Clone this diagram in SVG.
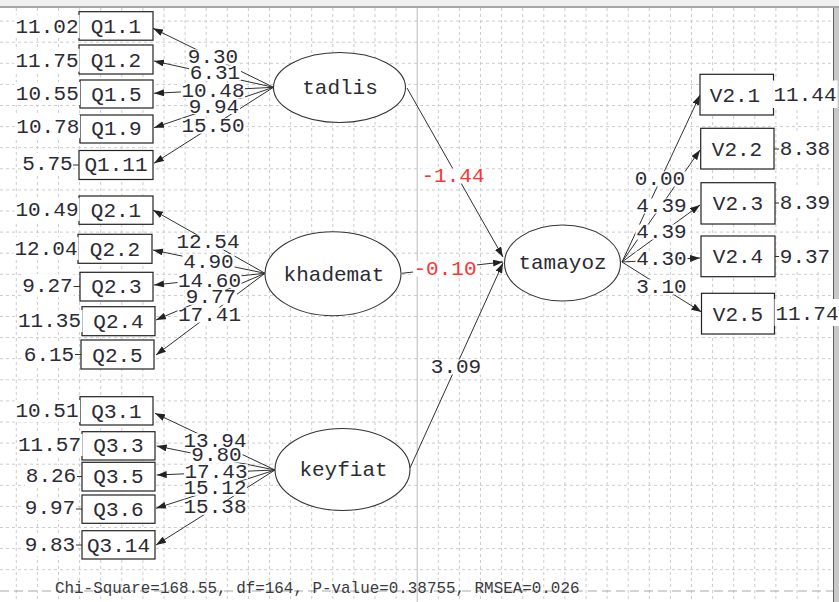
<svg xmlns="http://www.w3.org/2000/svg" width="839" height="602" viewBox="0 0 839 602">
<style>
.grid{stroke:#cccccc;stroke-width:1;stroke-dasharray:3,3;fill:none}
.t{font-family:"Liberation Mono","Courier New",monospace;font-size:21px;fill:#2b2b35;text-anchor:middle}
.red{fill:#ff3333}
.bg{fill:#fff}
.box{fill:#fff;stroke:#222;stroke-width:1.2}
.ell{fill:#fff;stroke:#333;stroke-width:1.1}
.ln{stroke:#303030;stroke-width:1;fill:none}
.arr{stroke:#303030;stroke-width:1;fill:none;marker-end:url(#ah)}
.foot{font-family:"Liberation Mono","Courier New",monospace;font-size:15.9px;fill:#3a3a40}
</style>
<defs>
<marker id="ah" markerWidth="10" markerHeight="7" refX="10" refY="3.5" orient="auto" markerUnits="userSpaceOnUse"><path d="M0,0 L10,3.5 L0,7 z" fill="#222"/></marker>
</defs>
<rect x="0" y="0" width="839" height="602" fill="#fff"/>
<g id="grid">
<path class="grid" d="M16.3 8V602M37.4 8V602M58.5 8V602M79.6 8V602M100.7 8V602M121.8 8V602M142.9 8V602M164 8V602M185.1 8V602M206.2 8V602M227.3 8V602M248.4 8V602M269.5 8V602M290.6 8V602M311.7 8V602M332.8 8V602M353.9 8V602M375 8V602M396.1 8V602M438.3 8V602M459.4 8V602M480.5 8V602M501.6 8V602M522.7 8V602M543.8 8V602M564.9 8V602M586 8V602M607.1 8V602M628.2 8V602M649.3 8V602M670.4 8V602M691.5 8V602M712.6 8V602M733.7 8V602M754.8 8V602M775.9 8V602M797 8V602M818.1 8V602"/>
<path class="grid" d="M0 21.1H833M0 42.2H833M0 63.3H833M0 84.4H833M0 105.5H833M0 126.6H833M0 147.7H833M0 168.8H833M0 189.9H833M0 211H833M0 232.1H833M0 253.2H833M0 274.3H833M0 295.4H833M0 316.5H833M0 337.6H833M0 358.7H833M0 379.8H833M0 400.9H833M0 422H833M0 443.1H833M0 464.2H833M0 485.3H833M0 506.4H833M0 527.5H833M0 548.6H833M0 569.7H833"/>
<path d="M417.2 8V602" stroke="#bcbcbc" stroke-width="1" fill="none"/>
<path d="M0 591H833" stroke="#a8a8a8" stroke-width="1" stroke-dasharray="9,5" fill="none"/>
</g>
<g id="frame">
<rect x="0" y="0" width="839" height="6" fill="#f0f0f0"/>
<path d="M0 7H839" stroke="#a8a8a8" stroke-width="2"/>
<rect x="834" y="8" width="5" height="594" fill="#c8c8c8"/>
<path d="M833.5 8V602" stroke="#606060" stroke-width="1"/>
</g>
<g id="connectors">
<path class="arr" d="M273.5 87.3L153 28.3"/>
<path class="arr" d="M273.5 87.3L154 61"/>
<path class="arr" d="M273.5 87.3L154 93.3"/>
<path class="arr" d="M273.5 87.3L154 127.7"/>
<path class="arr" d="M273.5 87.3L154 163.3"/>
<path class="arr" d="M265 273.3L153 210"/>
<path class="arr" d="M265 273.3L153 250"/>
<path class="arr" d="M265 273.3L154 285"/>
<path class="arr" d="M265 273.3L156 320"/>
<path class="arr" d="M265 273.3L156 355"/>
<path class="arr" d="M275 470L155 413.3"/>
<path class="arr" d="M275 470L156.7 446"/>
<path class="arr" d="M275 470L156.7 475"/>
<path class="arr" d="M275 470L156 508.3"/>
<path class="arr" d="M275 470L156 545"/>
<path class="arr" d="M407 88L503 257"/>
<path class="arr" d="M401.7 273.3L503 262"/>
<path class="arr" d="M410 468L503 263"/>
<path class="arr" d="M622 262L700 95"/>
<path class="arr" d="M622 262L700 150"/>
<path class="arr" d="M622 262L700 205"/>
<path class="arr" d="M622 262L700 258"/>
<path class="arr" d="M622 262L701.5 312"/>
<path class="ln" d="M60 26H79M60 59.5H79M60 94H80M60 129H80M60 165H79M60 210H79M60 249H78M60 286.5H80M60 321H82M60 354.5H81M60 411H80M60 446H82M60 476.5H82M60 509H82M60 545H82M774 95H790M774 149H790M775 203H790M775 256.5H790M774 313.5H790"/>
</g>
<g id="connector-labels">
<rect class="bg" x="187" y="49.5" width="52" height="15"/><text class="t" x="213" y="63">9.30</text>
<rect class="bg" x="189" y="65.5" width="52" height="15"/><text class="t" x="215" y="79">6.31</text>
<rect class="bg" x="181" y="83.5" width="64" height="15"/><text class="t" x="213" y="97">10.48</text>
<rect class="bg" x="188" y="99" width="52" height="15"/><text class="t" x="214" y="112.5">9.94</text>
<rect class="bg" x="181" y="118.5" width="64" height="15"/><text class="t" x="213" y="132">15.50</text>
<rect class="bg" x="176" y="234.8" width="64" height="15"/><text class="t" x="208" y="248.3">12.54</text>
<rect class="bg" x="182.5" y="254.2" width="52" height="15"/><text class="t" x="208.5" y="267.7">4.90</text>
<rect class="bg" x="177.5" y="273.2" width="64" height="15"/><text class="t" x="209.5" y="286.7">14.60</text>
<rect class="bg" x="185" y="289.8" width="52" height="15"/><text class="t" x="211" y="303.3">9.77</text>
<rect class="bg" x="177.5" y="307.5" width="64" height="15"/><text class="t" x="209.5" y="321">17.41</text>
<rect class="bg" x="183" y="433.2" width="64" height="15"/><text class="t" x="215" y="446.7">13.94</text>
<rect class="bg" x="190.5" y="447.5" width="52" height="15"/><text class="t" x="216.5" y="461">9.80</text>
<rect class="bg" x="184" y="464.2" width="64" height="15"/><text class="t" x="216" y="477.7">17.43</text>
<rect class="bg" x="183" y="480.8" width="64" height="15"/><text class="t" x="215" y="494.3">15.12</text>
<rect class="bg" x="183" y="499.8" width="64" height="15"/><text class="t" x="215" y="513.3">15.38</text>
<rect class="bg" x="421" y="168.5" width="64" height="15"/><text class="t red" x="453" y="182">-1.44</text>
<rect class="bg" x="413" y="261.5" width="64" height="15"/><text class="t red" x="445" y="275">-0.10</text>
<rect class="bg" x="430" y="359.5" width="52" height="15"/><text class="t" x="456" y="373">3.09</text>
<rect class="bg" x="634" y="171.5" width="52" height="15"/><text class="t" x="660" y="185">0.00</text>
<rect class="bg" x="635.5" y="198.5" width="52" height="15"/><text class="t" x="661.5" y="212">4.39</text>
<rect class="bg" x="635.5" y="224.5" width="52" height="15"/><text class="t" x="661.5" y="238">4.39</text>
<rect class="bg" x="635.5" y="251.5" width="52" height="15"/><text class="t" x="661.5" y="265">4.30</text>
<rect class="bg" x="635.5" y="279.5" width="52" height="15"/><text class="t" x="661.5" y="293">3.10</text>
</g>
<g id="tadlis"><ellipse class="ell" cx="339.5" cy="87.5" rx="66" ry="35"/><text class="t" x="340" y="93.5">tadlis</text></g>
<g id="khademat"><ellipse class="ell" cx="333" cy="273.7" rx="68" ry="42"/><text class="t" x="334" y="281">khademat</text></g>
<g id="keyfiat"><ellipse class="ell" cx="342.5" cy="469.5" rx="67.5" ry="41"/><text class="t" x="343.5" y="475.5">keyfiat</text></g>
<g id="tamayoz"><ellipse class="ell" cx="562.5" cy="263" rx="58" ry="38"/><text class="t" x="562.5" y="269">tamayoz</text></g>
<g id="Q1.1"><rect class="box" x="79" y="11.7" width="74" height="28.5"/><text class="t" x="116" y="33">Q1.1</text><rect class="bg" x="14" y="15" width="65.5" height="23"/><text class="t" x="47" y="33">11.02</text></g>
<g id="Q1.2"><rect class="box" x="79" y="45" width="74" height="29"/><text class="t" x="116" y="66.7">Q1.2</text><rect class="bg" x="14" y="48.7" width="65.5" height="23"/><text class="t" x="47" y="66.7">11.75</text></g>
<g id="Q1.5"><rect class="box" x="80" y="80" width="73" height="28"/><text class="t" x="116.5" y="100.5">Q1.5</text><rect class="bg" x="14" y="82" width="66" height="23"/><text class="t" x="47.3" y="100">10.55</text></g>
<g id="Q1.9"><rect class="box" x="80" y="115" width="73" height="28"/><text class="t" x="116.5" y="135">Q1.9</text><rect class="bg" x="15" y="115" width="65" height="23"/><text class="t" x="47.8" y="133">10.78</text></g>
<g id="Q1.11"><rect class="box" x="79" y="150.5" width="74" height="29"/><text class="t" x="116" y="171">Q1.11</text><rect class="bg" x="21" y="153" width="52" height="23"/><text class="t" x="47.5" y="170">5.75</text></g>
<g id="Q2.1"><rect class="box" x="79" y="196" width="74" height="28.3"/><text class="t" x="116" y="216.5">Q2.1</text><rect class="bg" x="14.5" y="198" width="65" height="23"/><text class="t" x="47" y="215.7">10.49</text></g>
<g id="Q2.2"><rect class="box" x="78" y="234.3" width="74" height="29"/><text class="t" x="115" y="255.5">Q2.2</text><rect class="bg" x="13.5" y="237" width="65" height="23"/><text class="t" x="46" y="255">12.04</text></g>
<g id="Q2.3"><rect class="box" x="80" y="272.3" width="73" height="28.7"/><text class="t" x="116.5" y="293">Q2.3</text><rect class="bg" x="21.5" y="274" width="52" height="23"/><text class="t" x="47.5" y="291.7">9.27</text></g>
<g id="Q2.4"><rect class="box" x="82" y="306.7" width="73" height="29"/><text class="t" x="118.5" y="328">Q2.4</text><rect class="bg" x="17" y="310" width="65.5" height="22"/><text class="t" x="49.5" y="326.7">11.35</text></g>
<g id="Q2.5"><rect class="box" x="81" y="340" width="73" height="29"/><text class="t" x="117.5" y="361.5">Q2.5</text><rect class="bg" x="23" y="343" width="52" height="23"/><text class="t" x="49" y="361">6.15</text></g>
<g id="Q3.1"><rect class="box" x="80" y="396.7" width="73" height="28.3"/><text class="t" x="116.5" y="417.5">Q3.1</text><rect class="bg" x="14.5" y="400" width="65.5" height="22"/><text class="t" x="47" y="417.3">10.51</text></g>
<g id="Q3.3"><rect class="box" x="82" y="431.7" width="73" height="28.3"/><text class="t" x="118.5" y="452">Q3.3</text><rect class="bg" x="17" y="434" width="65.5" height="22"/><text class="t" x="49.5" y="450.7">11.57</text></g>
<g id="Q3.5"><rect class="box" x="82" y="462.3" width="73" height="28.7"/><text class="t" x="118.5" y="483">Q3.5</text><rect class="bg" x="25" y="465" width="52" height="22"/><text class="t" x="51" y="481.7">8.26</text></g>
<g id="Q3.6"><rect class="box" x="82" y="495" width="73" height="28.3"/><text class="t" x="118.5" y="515.5">Q3.6</text><rect class="bg" x="24" y="498" width="52" height="22"/><text class="t" x="50" y="514.3">9.97</text></g>
<g id="Q3.14"><rect class="box" x="82" y="530.7" width="73" height="28.3"/><text class="t" x="118.5" y="551.5">Q3.14</text><rect class="bg" x="24" y="534" width="52" height="22"/><text class="t" x="50" y="550.7">9.83</text></g>
<g id="V2.1"><rect class="box" x="700" y="74.3" width="73.5" height="40.7"/><text class="t" x="735" y="101.5">V2.1</text><rect class="bg" x="772.5" y="80.5" width="65" height="27.5"/><text class="t" x="805" y="101">11.44</text></g>
<g id="V2.2"><rect class="box" x="700.7" y="128.3" width="73.3" height="40.7"/><text class="t" x="737" y="155.5">V2.2</text><rect class="bg" x="779" y="134" width="52" height="27"/><text class="t" x="805" y="155">8.38</text></g>
<g id="V2.3"><rect class="box" x="701" y="182.7" width="74" height="41.3"/><text class="t" x="738" y="209.5">V2.3</text><rect class="bg" x="779" y="188" width="52" height="27"/><text class="t" x="805" y="209">8.39</text></g>
<g id="V2.4"><rect class="box" x="701" y="236" width="74" height="40.7"/><text class="t" x="738" y="263">V2.4</text><rect class="bg" x="779" y="242" width="52" height="27"/><text class="t" x="805" y="262.7">9.37</text></g>
<g id="V2.5"><rect class="box" x="701.5" y="293.3" width="73" height="40.7"/><text class="t" x="738" y="320.5">V2.5</text><rect class="bg" x="774.5" y="299" width="65" height="27"/><text class="t" x="807" y="320">11.74</text></g>
<text class="foot" x="55" y="593">Chi-Square=168.55, df=164, P-value=0.38755, RMSEA=0.026</text>
</svg>
